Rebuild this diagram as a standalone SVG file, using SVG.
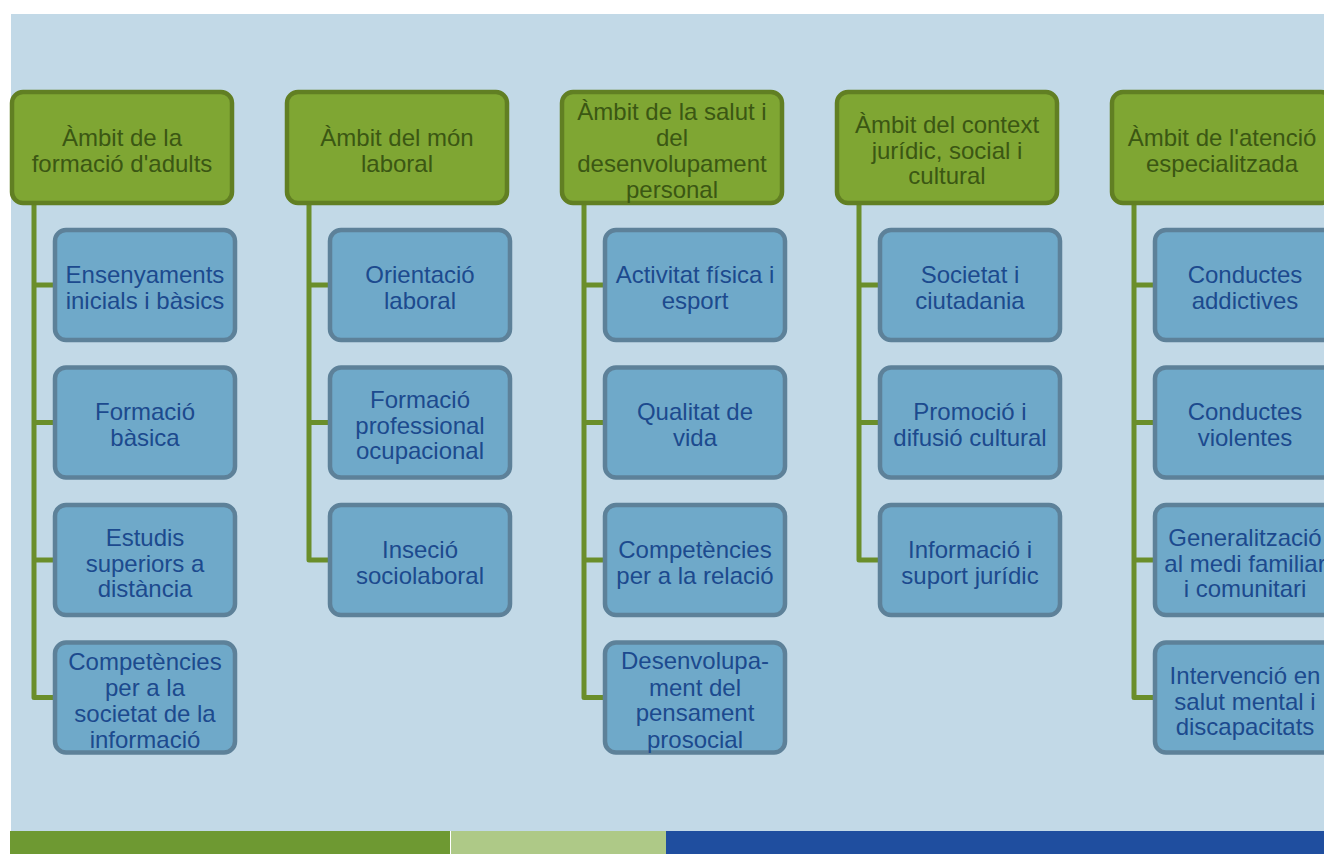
<svg xmlns="http://www.w3.org/2000/svg" width="1324" height="854" viewBox="0 0 1324 854">
  <style>
    .hdr rect { fill: #7fa633; stroke: #617f23; stroke-width: 4.5; }
    .hdr text { fill: #3b5713; }
    .item rect { fill: #6fa9c9; stroke: #5d8199; stroke-width: 4.5; }
    .item text { fill: #1c4a8e; }
    text { font-family: "Liberation Sans", Arial, sans-serif; font-size: 24px; text-anchor: middle; }
    .links path { fill: none; stroke: #6a8e2a; stroke-width: 5; stroke-linejoin: round; }
  </style>

  <!-- page -->
  <rect x="0" y="0" width="1324" height="854" fill="#ffffff"/>
  <rect x="11" y="14" width="1313" height="817" fill="#c2d9e7"/>

  <!-- footer band -->
  <rect x="10" y="831" width="440" height="23" fill="#6e9932"/>
  <rect x="451" y="831" width="215" height="23" fill="#aec987"/>
  <rect x="666" y="831" width="658" height="23" fill="#1f4e9f"/>

  <!-- connectors -->
  <g class="links">
    <path d="M34 203 V697.5 H55 M34 285 H55 M34 422.5 H55 M34 560 H55"/>
    <path d="M309 203 V560 H330 M309 285 H330 M309 422.5 H330"/>
    <path d="M584 203 V697.5 H605 M584 285 H605 M584 422.5 H605 M584 560 H605"/>
    <path d="M859 203 V560 H880 M859 285 H880 M859 422.5 H880"/>
    <path d="M1134 203 V697.5 H1155 M1134 285 H1155 M1134 422.5 H1155 M1134 560 H1155"/>
  </g>

  <!-- column 1 -->
  <g id="h1" class="hdr">
    <rect x="12" y="92" width="220" height="111" rx="11"/>
    <text x="122" y="146"><tspan x="122">Àmbit de la</tspan><tspan x="122" dy="26">formació d'adults</tspan></text>
  </g>
  <g id="c1a" class="item">
    <rect x="55" y="230" width="180" height="110" rx="11"/>
    <text y="283"><tspan x="145">Ensenyaments</tspan><tspan x="145" dy="26">inicials i bàsics</tspan></text>
  </g>
  <g id="c1b" class="item">
    <rect x="55" y="367.5" width="180" height="110" rx="11"/>
    <text y="420"><tspan x="145">Formació</tspan><tspan x="145" dy="26">bàsica</tspan></text>
  </g>
  <g id="c1c" class="item">
    <rect x="55" y="505" width="180" height="110" rx="11"/>
    <text y="546"><tspan x="145">Estudis</tspan><tspan x="145" dy="25.5">superiors a</tspan><tspan x="145" dy="25.5">distància</tspan></text>
  </g>
  <g id="c1d" class="item">
    <rect x="55" y="642.5" width="180" height="110" rx="11"/>
    <text y="670"><tspan x="145">Competències</tspan><tspan x="145" dy="26">per a la</tspan><tspan x="145" dy="26">societat de la</tspan><tspan x="145" dy="26">informació</tspan></text>
  </g>

  <!-- column 2 -->
  <g id="h2" class="hdr">
    <rect x="287" y="92" width="220" height="111" rx="11"/>
    <text y="146"><tspan x="397">Àmbit del món</tspan><tspan x="397" dy="26">laboral</tspan></text>
  </g>
  <g id="c2a" class="item">
    <rect x="330" y="230" width="180" height="110" rx="11"/>
    <text y="283"><tspan x="420">Orientació</tspan><tspan x="420" dy="26">laboral</tspan></text>
  </g>
  <g id="c2b" class="item">
    <rect x="330" y="367.5" width="180" height="110" rx="11"/>
    <text y="408"><tspan x="420">Formació</tspan><tspan x="420" dy="26">professional</tspan><tspan x="420" dy="25">ocupacional</tspan></text>
  </g>
  <g id="c2c" class="item">
    <rect x="330" y="505" width="180" height="110" rx="11"/>
    <text y="558"><tspan x="420">Inseció</tspan><tspan x="420" dy="26">sociolaboral</tspan></text>
  </g>

  <!-- column 3 -->
  <g id="h3" class="hdr">
    <rect x="562" y="92" width="220" height="111" rx="11"/>
    <text y="120"><tspan x="672">Àmbit de la salut i</tspan><tspan x="672" dy="26">del</tspan><tspan x="672" dy="25.5">desenvolupament</tspan><tspan x="672" dy="26">personal</tspan></text>
  </g>
  <g id="c3a" class="item">
    <rect x="605" y="230" width="180" height="110" rx="11"/>
    <text y="283"><tspan x="695">Activitat física i</tspan><tspan x="695" dy="26">esport</tspan></text>
  </g>
  <g id="c3b" class="item">
    <rect x="605" y="367.5" width="180" height="110" rx="11"/>
    <text y="420"><tspan x="695">Qualitat de</tspan><tspan x="695" dy="26">vida</tspan></text>
  </g>
  <g id="c3c" class="item">
    <rect x="605" y="505" width="180" height="110" rx="11"/>
    <text y="558"><tspan x="695">Competències</tspan><tspan x="695" dy="26">per a la relació</tspan></text>
  </g>
  <g id="c3d" class="item">
    <rect x="605" y="642.5" width="180" height="110" rx="11"/>
    <text y="669"><tspan x="695">Desenvolupa-</tspan><tspan x="695" dy="26.5">ment del</tspan><tspan x="695" dy="25.5">pensament</tspan><tspan x="695" dy="26.5">prosocial</tspan></text>
  </g>

  <!-- column 4 -->
  <g id="h4" class="hdr">
    <rect x="837" y="92" width="220" height="111" rx="11"/>
    <text y="133"><tspan x="947">Àmbit del context</tspan><tspan x="947" dy="26">jurídic, social i</tspan><tspan x="947" dy="25">cultural</tspan></text>
  </g>
  <g id="c4a" class="item">
    <rect x="880" y="230" width="180" height="110" rx="11"/>
    <text y="283"><tspan x="970">Societat i</tspan><tspan x="970" dy="26">ciutadania</tspan></text>
  </g>
  <g id="c4b" class="item">
    <rect x="880" y="367.5" width="180" height="110" rx="11"/>
    <text y="420"><tspan x="970">Promoció i</tspan><tspan x="970" dy="26">difusió cultural</tspan></text>
  </g>
  <g id="c4c" class="item">
    <rect x="880" y="505" width="180" height="110" rx="11"/>
    <text y="558"><tspan x="970">Informació i</tspan><tspan x="970" dy="26">suport jurídic</tspan></text>
  </g>

  <!-- column 5 -->
  <g id="h5" class="hdr">
    <rect x="1112" y="92" width="220" height="111" rx="11"/>
    <text y="146"><tspan x="1222">Àmbit de l'atenció</tspan><tspan x="1222" dy="26">especialitzada</tspan></text>
  </g>
  <g id="c5a" class="item">
    <rect x="1155" y="230" width="180" height="110" rx="11"/>
    <text y="283"><tspan x="1245">Conductes</tspan><tspan x="1245" dy="26">addictives</tspan></text>
  </g>
  <g id="c5b" class="item">
    <rect x="1155" y="367.5" width="180" height="110" rx="11"/>
    <text y="420"><tspan x="1245">Conductes</tspan><tspan x="1245" dy="26">violentes</tspan></text>
  </g>
  <g id="c5c" class="item">
    <rect x="1155" y="505" width="180" height="110" rx="11"/>
    <text y="546"><tspan x="1245">Generalització</tspan><tspan x="1245" dy="25.5">al medi familiar</tspan><tspan x="1245" dy="25.5">i comunitari</tspan></text>
  </g>
  <g id="c5d" class="item">
    <rect x="1155" y="642.5" width="180" height="110" rx="11"/>
    <text y="684"><tspan x="1245">Intervenció en</tspan><tspan x="1245" dy="26">salut mental i</tspan><tspan x="1245" dy="25">discapacitats</tspan></text>
  </g>
</svg>
